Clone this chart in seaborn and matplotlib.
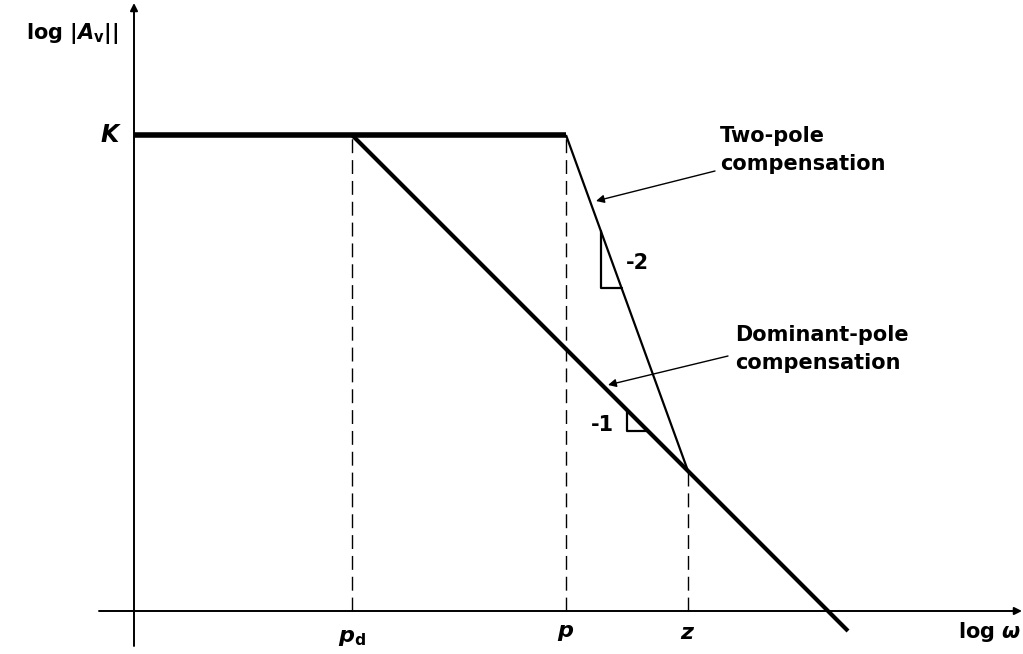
import matplotlib
matplotlib.use("Agg")
import matplotlib.pyplot as plt
import seaborn as sns
import pandas as pd
import numpy as np

# ---- data (log-frequency / log-gain units) ----
pole_labels = ["p_d", "p", "z"]
pd_x = 2.18      # dominant pole
p_x = 4.32       # first pole
z_x = 5.54       # zero / meeting point
K = 4.76         # DC gain level
dom_end_x = 7.14 # end of dominant-pole line

sns.set_theme(style="white")
plt.rcParams['font.family'] = ['DejaVu Sans']
plt.rcParams['text.color'] = 'black'
plt.rcParams['mathtext.fontset'] = 'custom'
plt.rcParams['mathtext.rm'] = 'DejaVu Sans:bold'
plt.rcParams['mathtext.it'] = 'DejaVu Sans:italic:bold'
plt.rcParams['mathtext.bf'] = 'DejaVu Sans:bold'

fig = plt.figure(figsize=(10.23, 6.54), dpi=100)
ax = fig.add_axes([0, 0, 1, 1])
ax.set_xlim(-1.34, 8.89)
ax.set_ylim(-0.43, 6.11)
ax.axis("off")

# line tables
flat = pd.DataFrame({"x": [0.0, p_x], "y": [K, K]})
dom = pd.DataFrame({"x": [pd_x, dom_end_x], "y": [K, K - (dom_end_x - pd_x)]})
z_y = K - (z_x - pd_x)
two = pd.DataFrame({"x": [p_x, z_x], "y": [K, z_y]})

sns.lineplot(data=flat, x="x", y="y", ax=ax, color="black", lw=4, solid_capstyle="butt")
sns.lineplot(data=dom, x="x", y="y", ax=ax, color="black", lw=3, solid_capstyle="butt")
sns.lineplot(data=two, x="x", y="y", ax=ax, color="black", lw=1.6, solid_capstyle="butt")

# dashed guides
for xv, top in [(pd_x, K), (p_x, K), (z_x, z_y)]:
    ax.plot([xv, xv], [0, top], color="black", lw=1, dashes=(10, 5))

# axes with arrows
ax.annotate("", xy=(0, 6.08), xytext=(0, -0.35),
            arrowprops=dict(arrowstyle="-|>", color="black", lw=1.4, mutation_scale=11, shrinkA=0, shrinkB=0))
ax.annotate("", xy=(8.88, 0), xytext=(-0.35, 0),
            arrowprops=dict(arrowstyle="-|>", color="black", lw=1.4, mutation_scale=11, shrinkA=0, shrinkB=0))

# slope triangles
s2 = (K - z_y) / (z_x - p_x)
tx = 4.67; ty_b = 3.23
ty_t = K - (tx - p_x) * s2
tx_r = p_x + (K - ty_b) / s2
ax.plot([tx, tx, tx_r], [ty_t, ty_b, ty_b], color="black", lw=1.6)
ax.text(5.03, 3.48, "-2", fontsize=15, fontweight="bold", ha="center", va="center")

ux = 4.93; uy_b = 1.80
uy_t = K - (ux - pd_x)
ux_r = pd_x + (K - uy_b)
ax.plot([ux, ux, ux_r], [uy_t, uy_b, uy_b], color="black", lw=1.6)
ax.text(4.68, 1.86, "-1", fontsize=15, fontweight="bold", ha="center", va="center")

# annotations
ax.text(5.86, 4.61, "Two-pole\ncompensation", fontsize=15, fontweight="bold",
        ha="left", va="center", linespacing=1.45)
ax.annotate("", xy=(4.62, 4.10), xytext=(5.81, 4.40),
            arrowprops=dict(arrowstyle="-|>", color="black", lw=1, mutation_scale=12, shrinkA=0, shrinkB=0))
ax.text(6.01, 2.62, "Dominant-pole\ncompensation", fontsize=15, fontweight="bold",
        ha="left", va="center", linespacing=1.45)
ax.annotate("", xy=(4.74, 2.26), xytext=(5.94, 2.55),
            arrowprops=dict(arrowstyle="-|>", color="black", lw=1, mutation_scale=12, shrinkA=0, shrinkB=0))

# labels
ax.text(-0.12, K, "$K$", fontsize=17, ha="right", va="center")
ax.text(-0.16, 5.78, r"log $|A_{\mathrm{v}}|$|", fontsize=15, fontweight="bold", ha="right", va="center")
ax.text(pd_x, -0.27, r"$p_{\mathrm{d}}$", fontsize=16, ha="center", va="center")
ax.text(p_x, -0.22, r"$p$", fontsize=16, ha="center", va="center")
ax.text(z_x, -0.22, r"$z$", fontsize=16, ha="center", va="center")
ax.text(8.87, -0.21, r"log $\omega$", fontsize=15, fontweight="bold", ha="right", va="center")

fig.savefig("out.png", dpi=100)
